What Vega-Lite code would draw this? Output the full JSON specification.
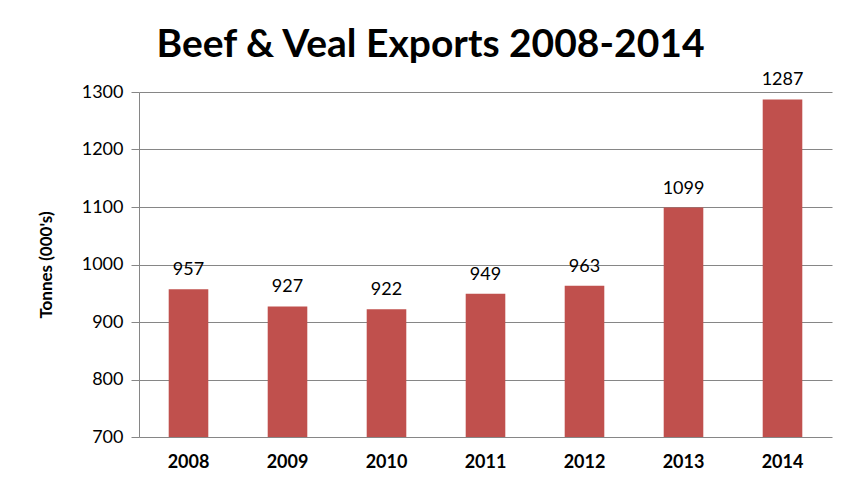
{
  "$schema": "https://vega.github.io/schema/vega-lite/v6.json",
  "autosize": "none",
  "width": 693,
  "height": 345,
  "padding": {"left": 139, "top": 92, "right": 28, "bottom": 63},
  "background": "white",
  "title": {
    "text": "Beef & Veal Exports 2008-2014",
    "font": "Lato",
    "fontSize": 39,
    "fontWeight": "bold",
    "color": "#000000",
    "anchor": "middle",
    "dx": -55,
    "offset": 6
  },
  "data": {
    "values": [
      {"year": "2008", "tonnes": 957},
      {"year": "2009", "tonnes": 927},
      {"year": "2010", "tonnes": 922},
      {"year": "2011", "tonnes": 949},
      {"year": "2012", "tonnes": 963},
      {"year": "2013", "tonnes": 1099},
      {"year": "2014", "tonnes": 1287}
    ]
  },
  "config": {
    "view": {"stroke": null},
    "font": "Lato"
  },
  "encoding": {
    "x": {
      "field": "year",
      "type": "ordinal",
      "scale": {"paddingInner": 0.6, "paddingOuter": 0.3},
      "axis": {
        "title": null,
        "labelAngle": 0,
        "labelFont": "Lato",
        "labelFontSize": 18,
        "labelFontWeight": "bold",
        "labelColor": "#000000",
        "labelPadding": 16,
        "ticks": false,
        "domain": false
      }
    },
    "y": {
      "field": "tonnes",
      "type": "quantitative",
      "scale": {"domain": [700, 1300], "zero": false, "nice": false},
      "axis": {
        "title": "Tonnes (000's)",
        "titleFont": "Lato",
        "titleFontSize": 17,
        "titleFontWeight": "bold",
        "titleColor": "#000000",
        "titlePadding": 26,
        "values": [700, 800, 900, 1000, 1100, 1200, 1300],
        "format": "d",
        "labelFont": "Lato",
        "labelFontSize": 18,
        "labelColor": "#000000",
        "labelPadding": 8,
        "tickSize": 8,
        "tickColor": "#868686",
        "domainColor": "#868686",
        "gridColor": "#868686",
        "gridOpacity": 1,
        "grid": true
      }
    }
  },
  "layer": [
    {
      "mark": {"type": "bar", "color": "#C0504D", "clip": true}
    },
    {
      "mark": {"type": "text", "baseline": "bottom", "dy": -10, "fontSize": 18, "color": "#000000", "font": "Lato"},
      "encoding": {"text": {"field": "tonnes", "type": "quantitative"}}
    }
  ]
}
